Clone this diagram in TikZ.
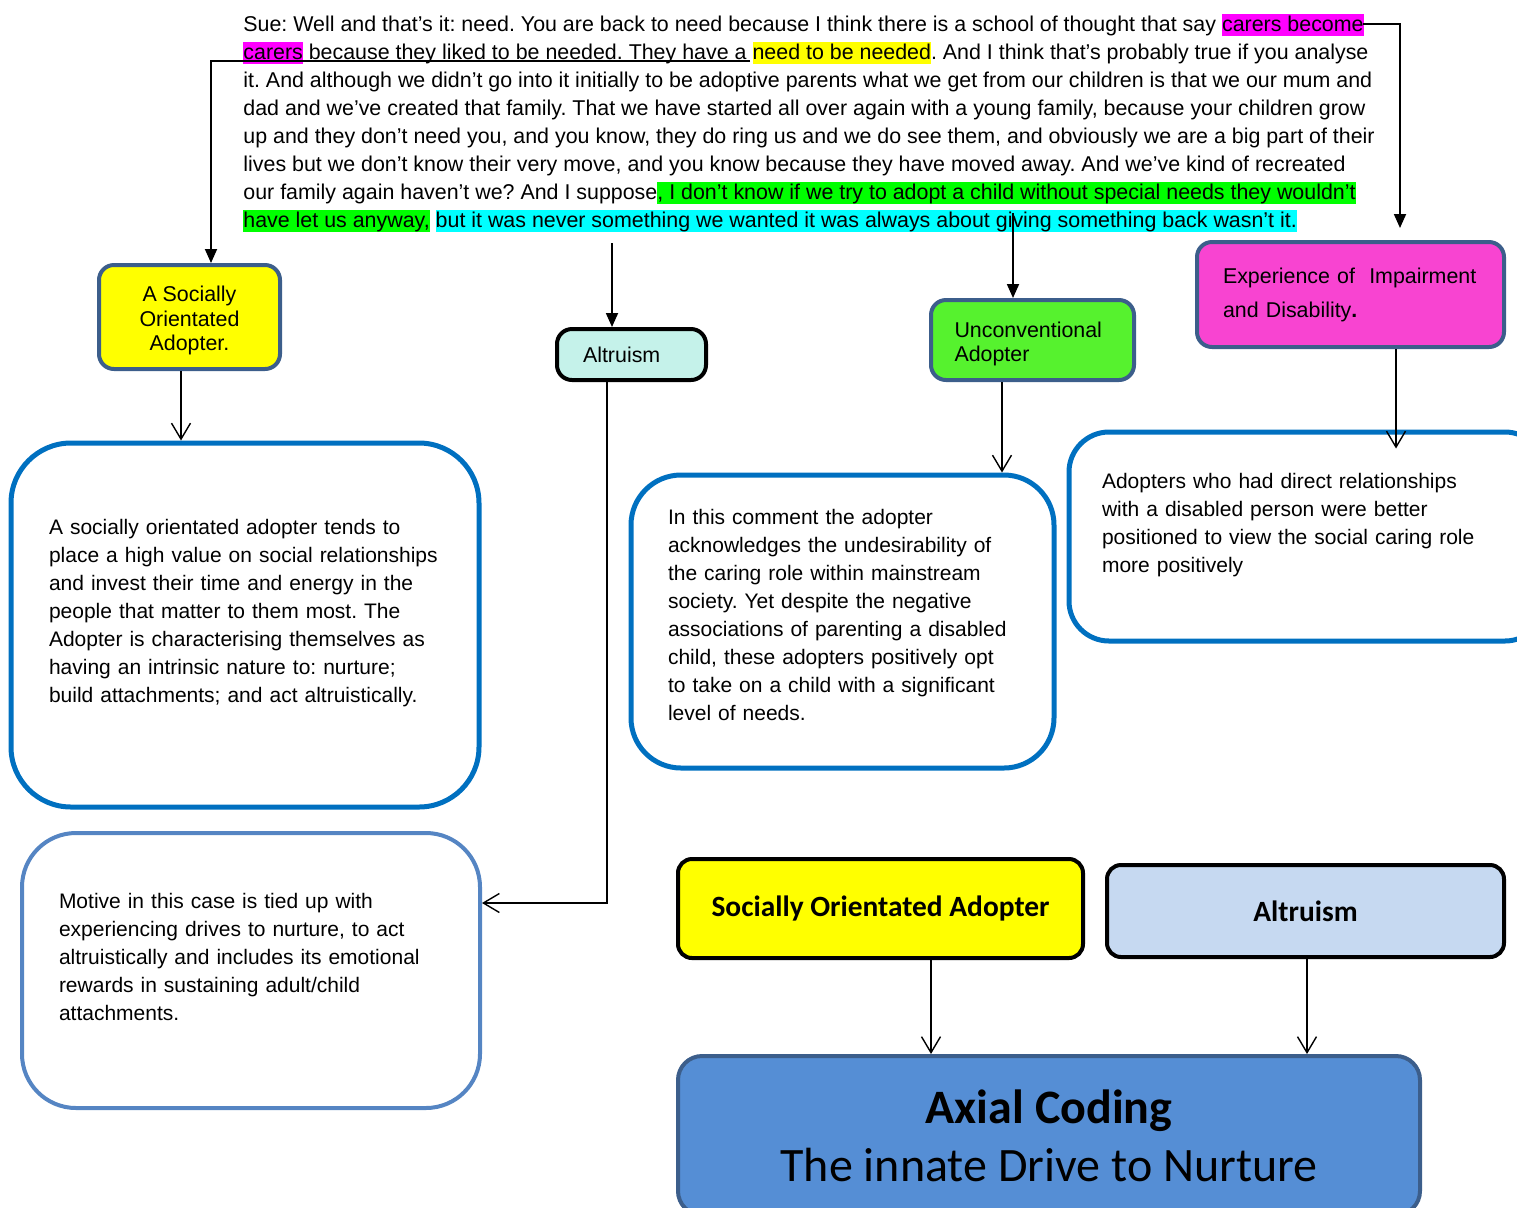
\documentclass[tikz,border=0pt]{standalone}
\usepackage{fontspec}
\setmainfont{Liberation Sans}
\newfontfamily\calibri{Carlito}
\usetikzlibrary{math,arrows.meta}

\definecolor{hlmag}{HTML}{FF00FF}
\definecolor{hlyel}{HTML}{FFFF00}
\definecolor{hlgrn}{HTML}{00FF00}
\definecolor{hlcyn}{HTML}{00FFFF}
\definecolor{slate}{HTML}{3C5E8B}
\definecolor{noteblue}{HTML}{0070C0}
\definecolor{softblue}{HTML}{5585C3}
\definecolor{mint}{HTML}{C5F2EA}
\definecolor{lime}{HTML}{56F22E}
\definecolor{pink}{HTML}{F844D1}
\definecolor{paleblue}{HTML}{C6D9F1}
\definecolor{axblue}{HTML}{558ED5}

\newcommand{\hlt}[2]{{\setlength{\fboxsep}{0pt}\colorbox{#1}{\rule[-2.5pt]{0pt}{11pt}#2}}}
\frenchspacing

\begin{document}
\begin{tikzpicture}[x=0.5pt, y=-0.5pt,
    every node/.style={font=\fontsize{10.5}{14}\selectfont, inner sep=0pt},
    tag/.style={draw=slate, line width=2pt, rounded corners=7.5pt, align=left},
    note/.style={draw=noteblue, line width=2.5pt, align=left},
    key/.style={draw=black, line width=2pt, rounded corners=7pt, font=\calibri\bfseries\fontsize{14.7}{17}\selectfont},
    tipline/.style={line width=0.9pt, -{Triangle[length=7pt,width=6pt]}},
    barbline/.style={line width=0.7pt, -{Straight Barb[length=8pt,width=9.5pt]}}]
    \tikzmath{\ul = 61; \xl = 211; \xr = 1400;}
    \useasboundingbox (0,0) rectangle (1517,1207);
    \clip (0,0) rectangle (1517,1207);

    % the quote
    \node[anchor=base west, align=left, font=\fontsize{10.7}{14}\selectfont] (Q) at (243,227) {%
        Sue: Well and that’s it: need. You are back to need because I think there is a school of thought that say \hlt{hlmag}{carers become}\\
        \hlt{hlmag}{carers} because they liked to be needed. They have a \hlt{hlyel}{need to be needed}. And I think that’s probably true if you analyse\\
        it. And although we didn’t go into it initially to be adoptive parents what we get from our children is that we our mum and\\
        dad and we’ve created that family. That we have started all over again with a young family, because your children grow\\
        up and they don’t need you, and you know, they do ring us and we do see them, and obviously we are a big part of their\\
        lives but we don’t know their very move, and you know because they have moved away. And we’ve kind of recreated\\
        our family again haven’t we? And I suppose\hlt{hlgrn}{, I don’t know if we try to adopt a child without special needs they wouldn’t}\\
        \hlt{hlgrn}{have let us anyway,} \hlt{hlcyn}{but it was never something we wanted it was always about giving something back wasn’t it.}};

    % codes
    \node[tag, fill=hlyel, align=center, minimum width=90.5pt, minimum height=52pt,
          font=\fontsize{10.7}{12.25}\selectfont] (Soc) at (189.5,317) {\rule{0pt}{11.7pt}A Socially\\Orientated\\Adopter.};
    \node[tag, draw=black, fill=mint, minimum width=74.5pt, minimum height=25.5pt, text width=48.5pt,
          font=\fontsize{10.7}{12}\selectfont] (Alt) at (631.5,354.5) {Altruism};
    \node[tag, fill=lime, minimum width=101.5pt, minimum height=40pt, text width=78pt,
          font=\fontsize{10.7}{12}\selectfont] (Unc) at (1032.5,340) {\rule{0pt}{11.7pt}Unconventional\\Adopter};
    \node[tag, fill=pink, minimum width=153.5pt, minimum height=52.5pt, text width=127.5pt,
          font=\fontsize{10.7}{17}\selectfont] (Exp) at (1350.5,294.5) {Experience of~~Impairment\\and Disability\textbf{.}};

    % memos
    \node[note, rounded corners=30pt, minimum width=234pt, minimum height=182pt, text width=196pt] (SocN) at (245,625) {%
        A socially orientated adopter tends to\\
        place a high value on social relationships\\
        and invest their time and energy in the\\
        people that matter to them most. The\\
        Adopter is characterising themselves as\\
        having an intrinsic nature to: nurture;\\
        build attachments; and act altruistically.\\ \mbox{}};
    \node[note, rounded corners=25pt, minimum width=211.5pt, minimum height=146.5pt, text width=174.5pt] (UncN) at (842.5,621.5) {%
        In this comment the adopter\\
        acknowledges the undesirability of\\
        the caring role within mainstream\\
        society. Yet despite the negative\\
        associations of parenting a disabled\\
        child, these adopters positively opt\\
        to take on a child with a significant\\
        level of needs.\\[-7pt] \mbox{}};
    \node[note, rounded corners=20pt, minimum width=238pt, minimum height=104.5pt, text width=205pt] (ExpN) at (1307,536.5) {%
        Adopters who had direct relationships\\
        with a disabled person were better\\
        positioned to view the social caring role\\
        more positively\\ \mbox{}};
    \node[note, draw=softblue, line width=2pt, rounded corners=27pt, minimum width=229pt, minimum height=137.5pt, text width=192pt] (AltN) at (251,970.5) {%
        Motive in this case is tied up with\\
        experiencing drives to nurture, to act\\
        altruistically and includes its emotional\\
        rewards in sustaining adult/child\\
        attachments.\\ \mbox{}};

    % axial coding
    \node[key, fill=hlyel, minimum width=202.5pt, minimum height=49.5pt] (SocB) at (880.5,908.5) {Socially Orientated Adopter};
    \node[key, fill=paleblue, minimum width=198.5pt, minimum height=46pt] (AltB) at (1305.5,911) {Altruism};
    \node[draw=slate, fill=axblue, line width=2pt, rounded corners=12pt, align=center,
          minimum width=371pt, minimum height=79.5pt, font=\calibri\fontsize{24}{29}\selectfont] (Ax) at (1049,1135.5)
          {\textbf{Axial Coding}\\The innate Drive to Nurture};

    % from the quote
    \coordinate (u1) at (750,\ul);
    \coordinate (u2) at (\xl,\ul);
    \draw[tipline] (u1)--(u2)--(u2 |- Soc.north);
    \coordinate (c1) at (1363,24);
    \coordinate (c2) at (\xr,228);
    \draw[tipline] (c1)-|(c2);
    \coordinate (g1) at (1013,213);
    \draw[tipline] (g1)--(g1 |- Unc.north);
    \coordinate (n1) at (612,243);
    \draw[tipline] (n1)--(n1 |- Alt.north);

    % codes to memos
    \coordinate (a1) at ([xshift=-4.25pt]Soc.south);
    \draw[barbline] (a1)--(a1 |- SocN.north);
    \coordinate (a2) at ([xshift=-12.25pt]Alt.south);
    \coordinate (a3) at ([yshift=33.75pt]AltN.east);
    \draw[barbline] (a2)|-(a3);
    \coordinate (a4) at ([xshift=-15.25pt]Unc.south);
    \draw[barbline] (a4)--(a4 |- UncN.north);
    \coordinate (a5) at ([xshift=22.75pt]Exp.south);
    \draw[barbline, shorten >=-9.5pt] (a5)--(a5 |- ExpN.north);
    \coordinate (a6) at ([xshift=25.25pt]SocB.south);
    \draw[barbline] (a6)--(a6 |- Ax.north);
    \coordinate (a7) at ([xshift=0.75pt]AltB.south);
    \draw[barbline] (a7)--(a7 |- Ax.north);
\end{tikzpicture}
\end{document}
